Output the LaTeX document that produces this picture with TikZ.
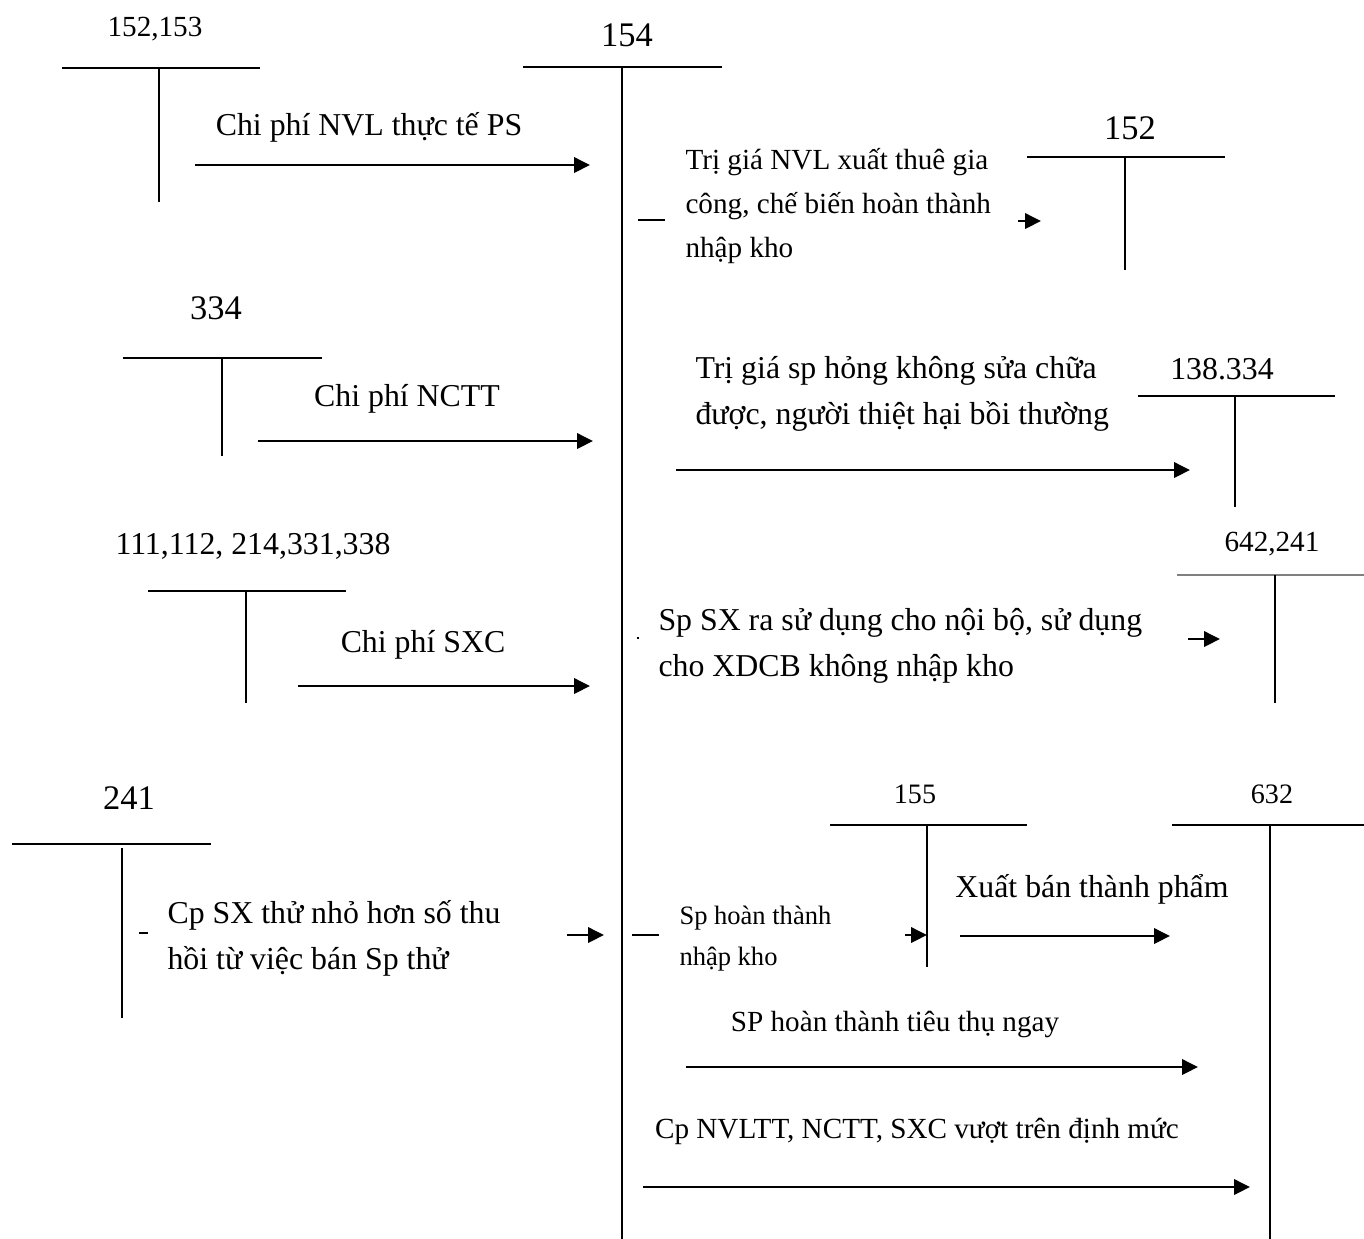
\documentclass[tikz,border=0pt]{standalone}
\usepackage{fontspec}
\setmainfont{Liberation Serif}
\usetikzlibrary{arrows.meta}
\begin{document}
\begin{tikzpicture}[x=0.377pt,y=-0.377pt,
  acc/.style={line width=0.8pt},
  arr/.style={line width=0.8pt,-{Triangle[length=6pt,width=5.8pt]}},
  txt/.style={inner sep=0pt,align=left,font=\fontsize{12}{17.3}\selectfont},
  txtm/.style={inner sep=0pt,align=left,font=\fontsize{11}{16.6}\selectfont},
  txts/.style={inner sep=0pt,align=left,font=\fontsize{10}{15.5}\selectfont},
  numl/.style={inner sep=0pt,font=\fontsize{13}{15}\selectfont},
  numm/.style={inner sep=0pt,font=\fontsize{12}{14}\selectfont},
  nums/.style={inner sep=0pt,font=\fontsize{11}{13}\selectfont},
  numxs/.style={inner sep=0pt,font=\fontsize{10.6}{13}\selectfont}]
\useasboundingbox (0,0) rectangle (1364,1239);

% ---- T-accounts ----
\node[nums] (a152153) at (155,29) {152,153};
\draw[acc] (62,68) -- (260,68) (159,68) -- (159,202);

\node[numl] (a154) at (627,35) {154};
\draw[acc] (523,67) -- (722,67) (622,67) -- (622,1239);

\node[numl] (a152) at (1130,128) {152};
\draw[acc] (1027,157) -- (1225,157) (1125,157) -- (1125,270);

\node[numl] (a334) at (216,308) {334};
\draw[acc] (123,358) -- (322,358) (222,358) -- (222,456);

\node[numm] (a138) at (1222,369) {138.334};
\draw[acc] (1138,396) -- (1335,396) (1235,396) -- (1235,507);

\node[numm] (a111) at (253,546) {111,112, 214,331,338};
\draw[acc] (148,591) -- (346,591) (246,591) -- (246,703);

\node[nums] (a642) at (1272,544) {642,241};
\draw[line width=0.6pt,gray] (1177,575) -- (1364,575);
\draw[acc] (1275,575) -- (1275,703);

\node[numl] (a241) at (129,798) {241};
\draw[acc] (12,844) -- (211,844) (122,848) -- (122,1018);

\node[numxs] (a155) at (915,794) {155};
\draw[acc] (830,825) -- (1027,825) (927,825) -- (927,967);

\node[numxs] (a632) at (1272,794) {632};
\draw[acc] (1172,825) -- (1364,825) (1270,825) -- (1270,1239);

% ---- texts ----
\node[txt] (t1) at (369,127) {Chi phí NVL thực tế PS};
\node[txtm,anchor=west] (t2) at (685,206) {Trị giá NVL xuất thuê gia\\công, chế biến hoàn thành\\nhập kho};
\node[txt] (t3) at (407,399) {Chi phí NCTT};
\node[txt,anchor=west] (t4) at (695,394) {Trị giá sp hỏng không sửa chữa\\được, người thiệt hại bồi thường};
\node[txt] (t5) at (423,645) {Chi phí SXC};
\node[txt,anchor=west] (t6) at (658,646) {Sp SX ra sử dụng cho nội bộ, sử dụng\\cho XDCB không nhập kho};
\node[txt,anchor=west] (t7) at (167,938) {Cp SX thử nhỏ hơn số thu\\hồi từ việc bán Sp thử};
\node[txts,anchor=west] (t8) at (679,939) {Sp hoàn thành\\nhập kho};
\node[txt] (t9) at (1092,889) {Xuất bán thành phẩm};
\node[txtm] (t10) at (895,1024) {SP hoàn thành tiêu thụ ngay};
\node[txtm] (t11) at (917,1131) {Cp NVLTT, NCTT, SXC vượt trên định mức};

% ---- connector end points ----
\coordinate (p1s) at (195,165);  \coordinate (p1e) at (590,165);
\coordinate (p2s) at (1018,221); \coordinate (p2e) at (1041,221);
\coordinate (p3s) at (258,441);  \coordinate (p3e) at (593,441);
\coordinate (p4s) at (676,470);  \coordinate (p4e) at (1190,470);
\coordinate (p5s) at (298,686);  \coordinate (p5e) at (590,686);
\coordinate (p6s) at (1188,639); \coordinate (p6e) at (1220,639);
\coordinate (p7s) at (567,935);  \coordinate (p7e) at (604,935);
\coordinate (p8s) at (905,935);  \coordinate (p8e) at (927,935);
\coordinate (p9s) at (960,936);  \coordinate (p9e) at (1170,936);
\coordinate (p10s) at (686,1067); \coordinate (p10e) at (1198,1067);
\coordinate (p11s) at (643,1187); \coordinate (p11e) at (1250,1187);

\draw[arr] (p1s) -- (p1e);
\draw[arr] (p2s) -- (p2e);
\draw[arr] (p3s) -- (p3e);
\draw[arr] (p4s) -- (p4e);
\draw[arr] (p5s) -- (p5e);
\draw[arr] (p6s) -- (p6e);
\draw[arr] (p7s) -- (p7e);
\draw[arr] (p8s) -- (p8e);
\draw[arr] (p9s) -- (p9e);
\draw[arr] (p10s) -- (p10e);
\draw[arr] (p11s) -- (p11e);

% ---- short dashes ----
\coordinate (d1s) at (638,220); \coordinate (d1e) at (665,220);
\coordinate (d2s) at (139,933); \coordinate (d2e) at (148,933);
\coordinate (d3s) at (632,935); \coordinate (d3e) at (659,935);
\coordinate (d4s) at (637,638); \coordinate (d4e) at (639,638);
\draw[acc] (d1s) -- (d1e);
\draw[acc] (d2s) -- (d2e);
\draw[acc] (d3s) -- (d3e);
\draw[line width=0.4pt] (d4s) -- (d4e);
\end{tikzpicture}
\end{document}
